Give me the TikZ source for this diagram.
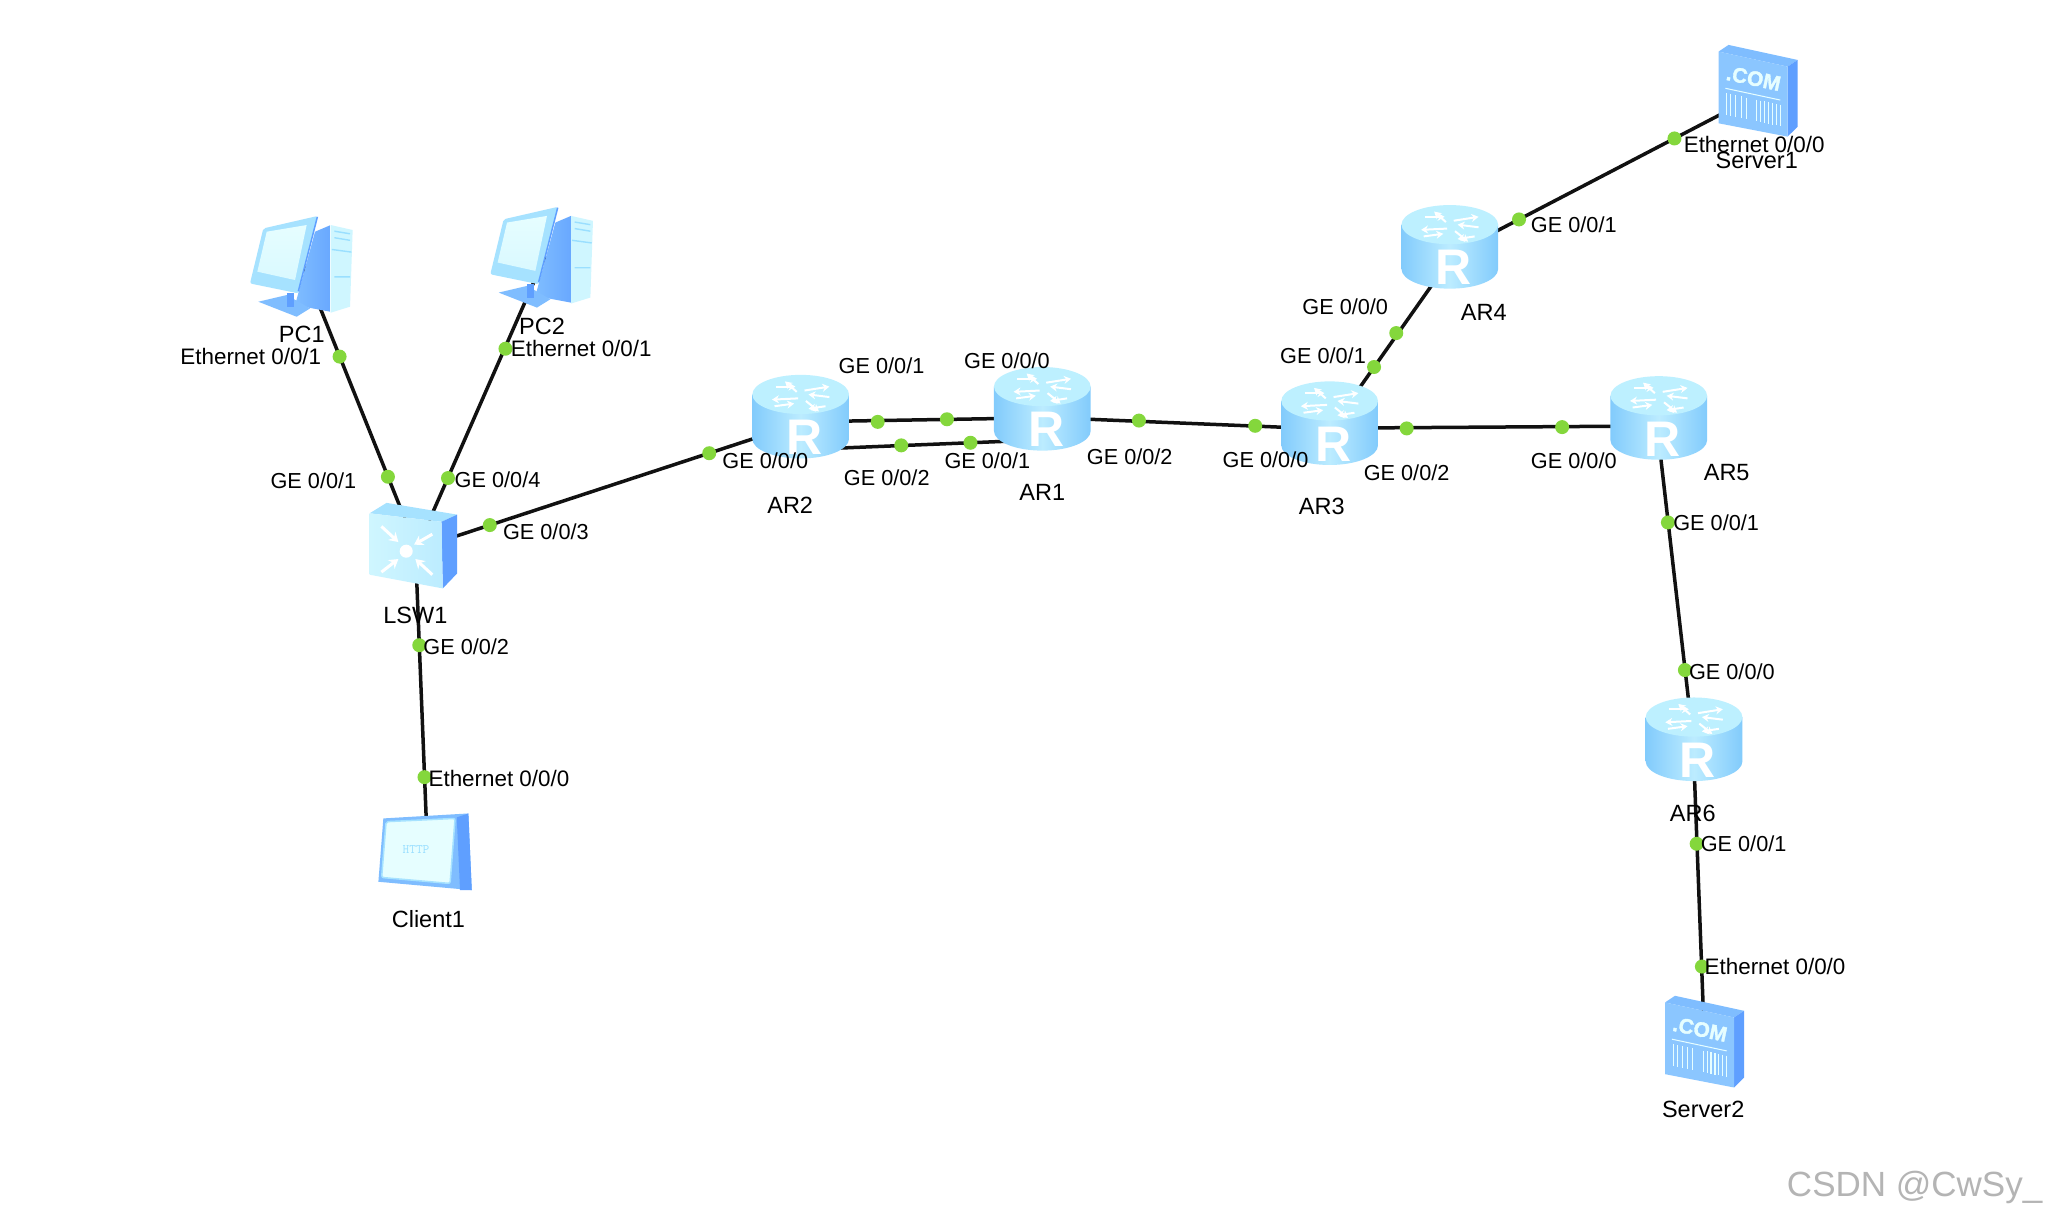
\documentclass[tikz,border=0pt]{standalone}
\usepackage{fontspec}
\setmainfont{Liberation Sans}
\usetikzlibrary{arrows.meta}
\definecolor{linkc}{HTML}{111111}
\definecolor{dotc}{HTML}{84D73C}
\definecolor{cylA}{HTML}{82CBFC}
\definecolor{cylB}{HTML}{BCECFF}
\definecolor{cylTop}{HTML}{BDF0FF}
\definecolor{deepb}{HTML}{5F9FFF}
\definecolor{midb}{HTML}{7FBDFF}
\definecolor{paleb}{HTML}{CFF6FF}
\definecolor{rimb}{HTML}{A6E2FF}
\definecolor{screenb}{HTML}{E6FEFF}
\definecolor{markc}{HTML}{9ADFFF}
\definecolor{wmark}{HTML}{B4B4B4}
\tikzset{
  link/.style={draw=linkc,line width=3.5pt},
  portdot/.style={circle,fill=dotc,inner sep=0pt,minimum size=14pt},
  lab/.style={inner sep=0pt,anchor=west,text=black,font=\fontsize{21.7}{24}\selectfont},
  ethlab/.style={inner sep=0pt,anchor=west,text=black,font=\fontsize{22.4}{24}\selectfont},
  devlab/.style={inner sep=0pt,anchor=center,text=black,font=\fontsize{23.5}{25}\selectfont},
  router/.pic={
    \path[left color=cylA,right color=cylA,middle color=cylB]
      (-37,-17) -- (-37,17) arc[start angle=180,end angle=0,x radius=37,y radius=15] -- (37,-17) -- cycle;
    \fill[cylTop] (0,-17) ellipse[x radius=37,y radius=15];
    \node[inner sep=0pt,text=white,font=\bfseries\fontsize{50}{50}\selectfont] (letter) at (3,16) {R};
    \begin{scope}[white,line width=2pt,>={Stealth[length=7pt,width=8pt]}]
      \draw[->] (-3,-19) -- (-12,-27);
      \draw[->] (-19,-23) -- (-4,-23);
      \draw[->] (3,-20) -- (22,-23);
      \draw[->] (22,-15) -- (6,-17);
      \draw[->] (-2,-14) -- (-22,-13);
      \draw[->] (-20,-8) -- (-5,-10);
      \draw[->] (4,-12) -- (14,-4);
      \draw[->] (19,-8) -- (6,-6);
    \end{scope}
  },
  switchicon/.pic={
    \fill[rimb] (-34,-25) -- (-21,-33) -- (33,-24) -- (21,-18.5) -- cycle;
    \fill[deepb] (21,-18.5) -- (33,-24) -- (33,21) -- (22,32.5) -- cycle;
    \path[left color=paleb,right color=cylB] (-34,-25) -- (21,-18.5) -- (22,32.5) -- (-34,22) -- cycle;
    \fill[white] (-6,4) circle[radius=5];
    \begin{scope}[white,line width=3pt,>={Stealth[length=9pt,width=11pt]}]
      \draw[->] (-25,-15) -- (-12,-3);
      \draw[->] (14,-9) -- (0,-1);
      \draw[->] (-25,20) -- (-12,10);
      \draw[->] (14,22) -- (1,10);
    \end{scope}
  },
  pcicon/.pic={
    \path[left color=midb,right color=deepb!70!midb] (11.2,-25.6) -- (23.2,-30.7) -- (23.2,35.7) -- (-4.1,30.6) -- cycle;
    \fill[paleb] (23.2,-30.7) -- (40,-26.9) -- (38,31.8) -- (23.2,36.4) -- cycle;
    \draw[markc,line width=1.4pt] (26,-26) -- (38,-24) (26,-21) -- (38,-19) (24,-12) -- (39,-10) (26,9) -- (38,9);
    \fill[midb] (-32.2,28) -- (-10.5,22.9) -- (7.4,33.1) -- (-2.9,39.5) -- cycle;
    \fill[deepb] (-10.5,21.6) -- (-5,21.6) -- (-5,31.8) -- (-10.5,31.8) -- cycle;
    \fill[rimb,rounded corners=2pt] (-28.4,-28.1) -- (13,-37.6) -- (-1.6,21.6) -- (-38.6,14) -- cycle;
    \draw[deepb,line width=1.5pt] (13,-37) -- (-1.6,20);
    \path[top color=screenb,bottom color=screenb!80!rimb] (-25.8,-25.6) -- (4.8,-30.7) -- (-4.1,11.4) -- (-33,5) -- cycle;
  },
  servericon/.pic={
    \fill[midb] (-30.2,-30.5) -- (-22.6,-35.6) -- (30.3,-24.1) -- (22.6,-19) -- cycle;
    \fill[deepb] (22.6,-19) -- (30.3,-24.1) -- (30.3,27) -- (22.6,34.6) -- cycle;
    \fill[midb!80!cylB] (-30.2,-30.5) -- (22.6,-19) -- (22.6,34.6) -- (-30.2,24.4) -- cycle;
    \node[inner sep=0pt,text=screenb,rotate=-12,font=\bfseries\fontsize{21}{21}\selectfont\addfontfeatures{FakeBold=1.5}] (dotcom) at (-3.4,-10) {.COM};
    \draw[screenb,line width=1pt] (-25,-2.4) -- (17,6.6);
    \foreach \bx in {-24,-21,-17,-13,-9,-1,2,5,8,11,14,17}
      \draw[screenb,line width=1.1pt] (\bx,{1.5+0.21*(\bx+24)}) -- (\bx,{18+0.21*(\bx+24)});
  },
  clienticon/.pic={
    \fill[midb] (-32.5,-26.4) -- (32.6,-30.2) -- (35.2,28.5) -- (-36.3,22.1) -- cycle;
    \fill[deepb] (23.7,-27.2) -- (32.6,-30.2) -- (35.2,28.5) -- (26.2,28.5) -- cycle;
    \fill[screenb,draw=rimb,line width=1.5pt,rounded corners=2pt] (-30.4,-23.9) -- (22.4,-26.4) -- (18.6,23.4) -- (-33.8,18.8) -- cycle;
    \node[inner sep=0pt,text=markc,font=\ttfamily\fontsize{13}{13}\selectfont] (httpword) at (-7.5,-2.7) {HTTP};
  }
}
\begin{document}
\begin{tikzpicture}[x=1.30612pt,y=-1.30612pt]
\useasboundingbox[fill=white] (0,0) rectangle (1568,934);
% device anchors
\coordinate (pc1) at (230,203);
\coordinate (pc2) at (414,196);
\coordinate (lsw1) at (317,418);
\coordinate (client1) at (326,653);
\coordinate (ar2) at (613,319);
\coordinate (ar1) at (798,313);
\coordinate (ar3) at (1018,324);
\coordinate (ar4) at (1110,189);
\coordinate (ar5) at (1270,320);
\coordinate (ar6) at (1297,566);
\coordinate (server1) at (1346,70);
\coordinate (server2) at (1305,798);
% links
\draw[link] ([xshift=2.6pt]pc1) -- ([xshift=1.7pt]lsw1);
\draw[link] ([xshift=4.5pt]pc2) -- ([xshift=4pt]lsw1);
\draw[link] ([yshift=-4pt]lsw1) -- ([yshift=-6.5pt]ar2);
\draw[link] ([xshift=1.3pt]lsw1) -- ([xshift=1.8pt]client1);
\draw[link] ([yshift=-5.2pt]ar2) -- ([yshift=-9pt]ar1);
\draw[link] ([yshift=-33pt]ar2) -- ([yshift=-31pt]ar1);
\draw[link] ([yshift=-8.5pt]ar1) -- ([yshift=-6pt]ar3);
\draw[link] ([xshift=5pt]ar3) -- ([xshift=9pt]ar4);
\draw[link] ([yshift=-5pt]ar3) -- ([yshift=-8pt]ar5);
\draw[link] ([yshift=-8.6pt]ar4) -- ([yshift=-3.5pt]server1);
\draw[link] ([xshift=-2.6pt]ar5) -- ([xshift=-1pt]ar6);
\draw[link] ([xshift=-1pt]ar6) -- (server2);
% icons
\pic at (pc1) {pcicon};
\pic at (pc2) {pcicon};
\pic at (lsw1) {switchicon};
\pic at (client1) {clienticon};
\pic at (ar2) {router};
\pic at (ar1) {router};
\pic at (ar3) {router};
\pic at (ar4) {router};
\pic at (ar5) {router};
\pic at (ar6) {router};
\pic at (server1) {servericon};
\pic at (server2) {servericon};
% port dots
\node[portdot] (d1) at (260,273) {};
\node[portdot] (d2) at (297,365) {};
\node[portdot] (d3) at (387,267) {};
\node[portdot] (d4) at (343,366) {};
\node[portdot] (d5) at (375,402) {};
\node[portdot] (d6) at (543,347) {};
\node[portdot] (d7) at (321,494) {};
\node[portdot] (d8) at (325,595) {};
\node[portdot] (d9) at (672,323) {};
\node[portdot] (d10) at (725,321) {};
\node[portdot] (d11) at (690,341) {};
\node[portdot] (d12) at (743,339) {};
\node[portdot] (d13) at (872,322) {};
\node[portdot] (d14) at (961,326) {};
\node[portdot] (d15) at (1052,281) {};
\node[portdot] (d16) at (1069,255) {};
\node[portdot] (d17) at (1077,328) {};
\node[portdot] (d18) at (1196,327) {};
\node[portdot] (d19) at (1163,168) {};
\node[portdot] (d20) at (1282,106) {};
\node[portdot] (d21) at (1277,400) {};
\node[portdot] (d22) at (1290,513) {};
\node[portdot] (d23) at (1299,646) {};
\node[portdot] (d24) at (1303,740) {};
% port labels
\node[ethlab] (l1) at (138,273) {Ethernet 0/0/1};
\node[lab] (l2) at (207,368) {GE 0/0/1};
\node[ethlab] (l3) at (391,267) {Ethernet 0/0/1};
\node[lab] (l4) at (348,367) {GE 0/0/4};
\node[lab] (l5) at (385,407) {GE 0/0/3};
\node[lab] (l6) at (324,495) {GE 0/0/2};
\node[ethlab] (l7) at (328,596) {Ethernet 0/0/0};
\node[lab] (l8) at (553,353) {GE 0/0/0};
\node[lab] (l9) at (642,280) {GE 0/0/1};
\node[lab] (l10) at (646,366) {GE 0/0/2};
\node[lab] (l11) at (738,276) {GE 0/0/0};
\node[lab] (l12) at (723,353) {GE 0/0/1};
\node[lab] (l13) at (832,350) {GE 0/0/2};
\node[lab] (l14) at (936,352) {GE 0/0/0};
\node[lab] (l15) at (1044,362) {GE 0/0/2};
\node[lab] (l16) at (980,272) {GE 0/0/1};
\node[lab] (l17) at (997,235) {GE 0/0/0};
\node[lab] (l18) at (1172,172) {GE 0/0/1};
\node[ethlab] (l19) at (1289,111) {Ethernet 0/0/0};
\node[lab] (l20) at (1172,353) {GE 0/0/0};
\node[lab] (l21) at (1281,400) {GE 0/0/1};
\node[lab] (l22) at (1293,514) {GE 0/0/0};
\node[lab] (l23) at (1302,646) {GE 0/0/1};
\node[ethlab] (l24) at (1305,740) {Ethernet 0/0/0};
% device labels
\node[devlab] (n1) at (231,256) {PC1};
\node[devlab] (n2) at (415,250) {PC2};
\node[devlab] (n3) at (318,471) {LSW1};
\node[devlab] (n4) at (328,704) {Client1};
\node[devlab] (n5) at (605,387) {AR2};
\node[devlab] (n6) at (798,377) {AR1};
\node[devlab] (n7) at (1012,388) {AR3};
\node[devlab] (n8) at (1136,239) {AR4};
\node[devlab] (n9) at (1322,362) {AR5};
\node[devlab] (n10) at (1296,623) {AR6};
\node[devlab] (n11) at (1345,123) {Server1};
\node[devlab] (n12) at (1304,849) {Server2};
\node[inner sep=0pt,anchor=west,text=wmark,font=\fontsize{35}{36}\selectfont] (wm) at (1368,909) {CSDN @CwSy\_};
\end{tikzpicture}
\end{document}
